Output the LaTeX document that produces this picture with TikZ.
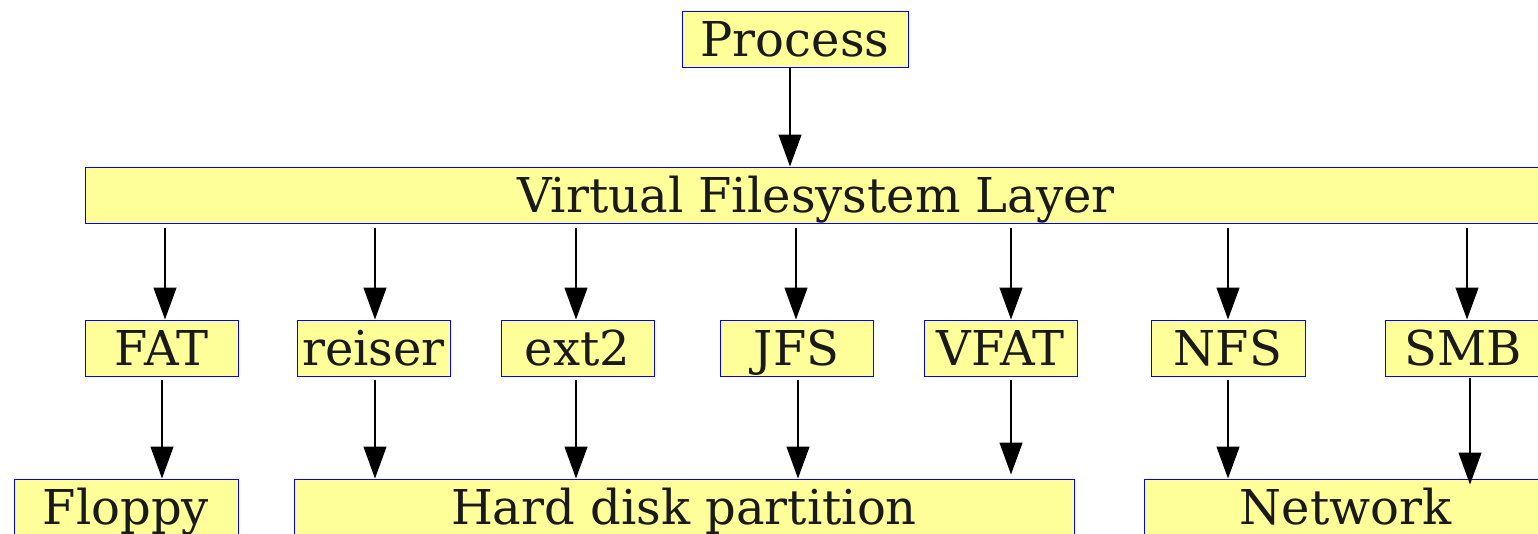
\documentclass[tikz,border=0pt]{standalone}
\usepackage{fontspec}
\setmainfont{DejaVu Serif}
\usetikzlibrary{arrows.meta}
\definecolor{boxfill}{HTML}{FFFF99}
\definecolor{boxline}{HTML}{0000FF}
\definecolor{txt}{HTML}{1A1A1A}
\tikzset{
  box/.style={draw=boxline, line width=1pt, fill=boxfill, text=txt, inner sep=0pt,
    minimum height=56pt, text height=40pt, text depth=6pt,
    font=\fontsize{48}{58}\selectfont},
  arr/.style={line width=1.3pt, -{Triangle[length=32pt,width=23pt]}}
}
\begin{document}
\begin{tikzpicture}[x=1pt,y=-1pt]
\useasboundingbox (0,0) rectangle (1538,533);
\node[box, minimum width=226pt] (proc) at (795,39) {Process};
\node[box, minimum width=1462pt] (vfs) at (816,195) {Virtual Filesystem Layer};
\node[box, minimum width=153pt] (fat) at (161.5,348) {FAT};
\node[box, minimum width=153pt] (reiser) at (373.5,348) {reiser};
\node[box, minimum width=153pt] (ext) at (577.5,348) {ext2};
\node[box, minimum width=153pt] (jfs) at (796.5,348) {JFS};
\node[box, minimum width=153pt] (vfat) at (1000.5,348) {VFAT};
\node[box, minimum width=154pt] (nfs) at (1228,348) {NFS};
\node[box, minimum width=156pt] (smb) at (1463,348) {SMB};
\node[box, minimum width=224pt] (floppy) at (126,507) {Floppy};
\node[box, minimum width=780pt] (hd) at (684,507) {Hard disk partition};
\node[box, minimum width=403pt] (net) at (1345.5,507) {Network};

\draw[arr] ([xshift=-5pt]proc.south) -- ([xshift=-5pt]proc.south |- vfs.north);
\foreach \n/\dx in {fat/3.5, reiser/1.5, ext/-1.5, jfs/-0.5, vfat/10.5, nfs/0, smb/4}{
  \draw[arr, shorten <=4pt] ([xshift=\dx pt]\n.north |- vfs.south) -- ([xshift=\dx pt]\n.north);
}
\draw[arr, shorten <=3pt] ([xshift=0.5pt]fat.south) -- ([xshift=0.5pt]fat.south |- floppy.north);
\draw[arr, shorten <=3pt] ([xshift=1.5pt]reiser.south) -- ([xshift=1.5pt]reiser.south |- hd.north);
\draw[arr, shorten <=3pt] ([xshift=-1.5pt]ext.south) -- ([xshift=-1.5pt]ext.south |- hd.north);
\draw[arr, shorten <=3pt] ([xshift=1.5pt]jfs.south) -- ([xshift=1.5pt]jfs.south |- hd.north);
\draw[arr, shorten <=3pt, shorten >=4pt] ([xshift=10.5pt]vfat.south) -- ([xshift=10.5pt]vfat.south |- hd.north);
\draw[arr, shorten <=3pt] (nfs.south) -- (nfs.south |- net.north);
\draw[arr, shorten <=1pt, shorten >=-6pt] ([xshift=7pt]smb.south) -- ([xshift=7pt]smb.south |- net.north);
\end{tikzpicture}
\end{document}
